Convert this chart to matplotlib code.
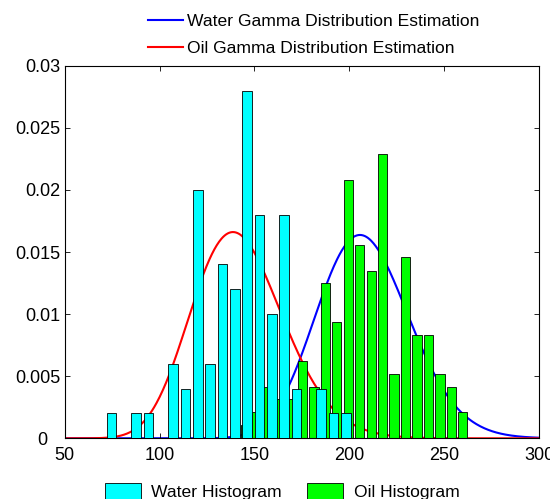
import math
import numpy as np
import matplotlib
matplotlib.use("Agg")
import matplotlib.pyplot as plt
from matplotlib.patches import Patch
from matplotlib.transforms import ScaledTranslation

plt.rcParams['font.family'] = ['Liberation Sans', 'DejaVu Sans']

# ---- data ----
water_centers = [74.7, 81.2, 87.7, 94.2, 100.7, 107.2, 113.7, 120.2, 126.7, 133.2,
                 139.7, 146.2, 152.7, 159.2, 165.7, 172.2, 178.7, 185.2, 191.7, 198.2]
water_density = [0.002, 0.0, 0.002, 0.002, 0.0, 0.006, 0.004, 0.020, 0.006, 0.014,
                 0.012, 0.028, 0.018, 0.010, 0.018, 0.004, 0.0, 0.004, 0.002, 0.002]
water_bin_width = 6.5

oil_centers = [145.1, 151.2, 157.2, 163.2, 169.3, 175.3, 181.4, 187.4, 193.4, 199.5,
               205.5, 211.6, 217.6, 223.6, 229.7, 235.7, 241.7, 247.8, 253.8, 259.8]
oil_density = [0.00104, 0.00208, 0.00417, 0.00313, 0.00313, 0.00625, 0.00417, 0.0125, 0.00938, 0.0208,
               0.0156, 0.0135, 0.0229, 0.0052, 0.0146, 0.00833, 0.00833, 0.0052, 0.00417, 0.00208]
oil_bin_width = 6.036

# fitted gamma parameters (shape, scale)
water_gamma_label = 'Water Gamma Distribution Estimation'   # blue curve
oil_gamma_label = 'Oil Gamma Distribution Estimation'       # red curve
blue_shape, blue_scale = 72.4, 2.88
red_shape, red_scale = 34.5, 4.14

x_ticks = [50, 100, 150, 200, 250, 300]
y_ticks = [0, 0.005, 0.01, 0.015, 0.02, 0.025, 0.03]
y_tick_labels = ['0', '0.005', '0.01', '0.015', '0.02', '0.025', '0.03']


def gamma_pdf(x, k, theta):
    x = np.asarray(x, dtype=float)
    logp = (k - 1) * np.log(x) - x / theta - math.lgamma(k) - k * math.log(theta)
    return np.exp(logp)


fig = plt.figure(figsize=(5.5, 4.99), dpi=100)
ax = fig.add_axes([0.1176, 0.1216, 0.8624, 0.7467])

xs = np.linspace(50, 300, 600)
l1, = ax.plot(xs, gamma_pdf(xs, blue_shape, blue_scale), color=(0, 0, 1), lw=1.5, zorder=1)
l2, = ax.plot(xs, gamma_pdf(xs, red_shape, red_scale), color=(1, 0, 0), lw=1.5, zorder=1)

ax.bar(oil_centers, oil_density, width=0.8 * oil_bin_width, color=(0, 1, 0),
       edgecolor='black', linewidth=0.6, zorder=2)
ax.bar(water_centers, water_density, width=0.8 * water_bin_width, color=(0, 1, 1),
       edgecolor='black', linewidth=0.6, zorder=3)

ax.set_xlim(50, 300)
ax.set_ylim(0, 0.03)
ax.set_xticks(x_ticks)
ax.set_xticklabels([str(t) for t in x_ticks])
ax.set_yticks(y_ticks)
ax.set_yticklabels(y_tick_labels)
ax.tick_params(direction='in', top=True, right=True, length=3.6, width=0.6,
               labelsize=13)
ax.tick_params(axis='x', pad=6.5)
ax.tick_params(axis='y', pad=3)
for s in ax.spines.values():
    s.set_linewidth(0.8)

# the "0" label sits further left in the reference
zero_lab = ax.yaxis.get_major_ticks()[0].label1
zero_lab.set_transform(zero_lab.get_transform() +
                       ScaledTranslation(-0.13, 0, fig.dpi_scale_trans))

fs = 12.6
fig.legend([l1, l2], [water_gamma_label, oil_gamma_label],
           loc='upper left', bbox_to_anchor=(148 / 550, 1 - 14 / 499),
           frameon=False, fontsize=fs, borderpad=0, borderaxespad=0,
           handlelength=2.0, handletextpad=0.22, labelspacing=0.65)

fig.legend([Patch(facecolor=(0, 1, 1), edgecolor='black', linewidth=0.6),
            Patch(facecolor=(0, 1, 0), edgecolor='black', linewidth=0.6)],
           ['Water Histogram', 'Oil Histogram'],
           loc='upper left', bbox_to_anchor=(105 / 550, 1 - 483 / 499), ncol=2,
           frameon=False, fontsize=fs, borderpad=0, borderaxespad=0,
           handlelength=2.05, handleheight=1.0, handletextpad=0.6,
           columnspacing=1.45)

fig.savefig('out.png', dpi=100)
